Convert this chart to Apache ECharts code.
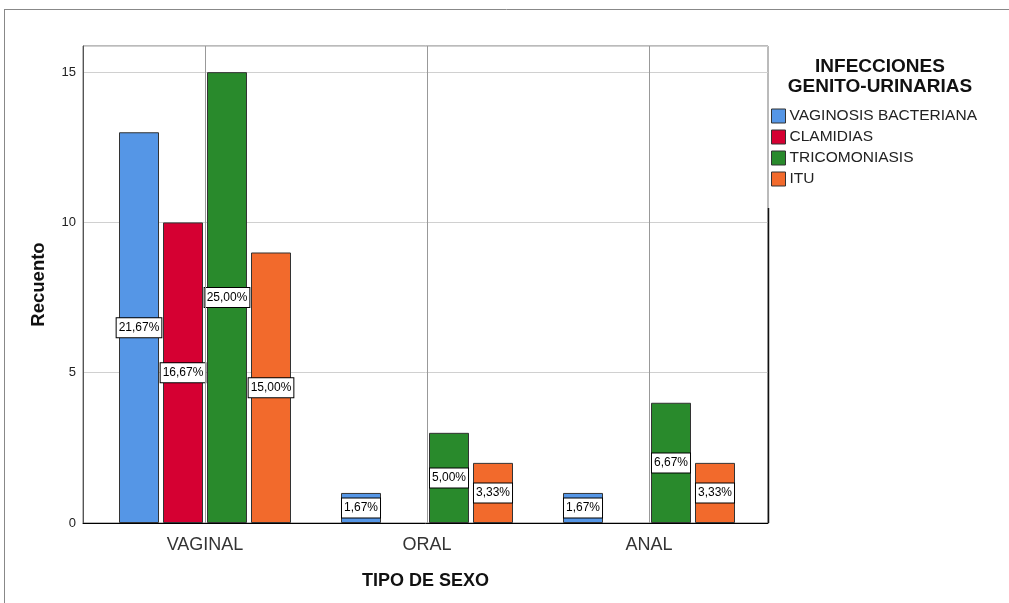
<!DOCTYPE html>
<html>
<head>
<meta charset="utf-8">
<script src="https://cdn.jsdelivr.net/npm/echarts@6/dist/echarts.min.js"></script>
<style>
html,body{margin:0;padding:0;background:#fff;}
#c{width:1009px;height:603px;}
</style>
</head>
<body>
<div id="c"></div>
<script>
var categories = ['VAGINAL', 'ORAL', 'ANAL'];
var seriesNames = ['VAGINOSIS BACTERIANA', 'CLAMIDIAS', 'TRICOMONIASIS', 'ITU'];
var vaginosis = [13, 1, 1];
var clamidias = [10, 0, 0];
var tricomoniasis = [15, 3, 4];
var itu = [9, 2, 2];
var yTicks = [0, 5, 10, 15];
var colors = ['#5596E6', '#D50032', '#298A2C', '#F26A2C'];

var allSeries = [vaginosis, clamidias, tricomoniasis, itu];
var total = 0;
allSeries.forEach(function (s) { s.forEach(function (v) { total += v; }); });

var FONT = '"Liberation Sans", Arial, sans-serif';
var YMAX = 15.87;

var chart = echarts.init(document.getElementById('c'), null, {renderer: 'canvas'});

function makeData(arr) {
  return arr.map(function (v) { return v === 0 ? null : v; });
}

var series = allSeries.map(function (arr, i) {
  return {
    name: seriesNames[i],
    type: 'bar',
    xAxisIndex: 1,
    yAxisIndex: 1,
    barWidth: 40,
    barGap: '10%',
    data: makeData(arr),
    itemStyle: {color: colors[i], borderColor: '#333', borderWidth: 1},
    label: {
      show: true,
      position: 'inside',
      color: '#000',
      fontSize: 12,
      fontFamily: FONT,
      backgroundColor: '#fff',
      borderColor: '#000',
      borderWidth: 1,
      padding: [4, 2, 3, 2],
      formatter: function (p) {
        return (p.value / total * 100).toFixed(2).replace('.', ',') + '%';
      }
    },
    z: 3
  };
});

series.push({
  name: 'refLines',
  type: 'line',
  xAxisIndex: 1,
  yAxisIndex: 1,
  data: categories.map(function () { return null; }),
  symbol: 'none',
  silent: true,
  z: 1,
  markLine: {
    silent: true,
    symbol: 'none',
    label: {show: false},
    lineStyle: {color: '#999', width: 1, type: 'solid'},
    data: categories.map(function (c) { return {xAxis: c}; })
  }
});

var option = {
  backgroundColor: '#fff',
  animation: false,
  title: {
    text: 'INFECCIONES\nGENITO-URINARIAS',
    left: 875,
    top: 52,
    textAlign: 'center',
    textStyle: {fontFamily: FONT, fontSize: 19, fontWeight: 'bold', color: '#111', lineHeight: 20}
  },
  legend: {
    orient: 'vertical',
    left: 766,
    top: 103,
    itemWidth: 14,
    itemHeight: 14,
    itemGap: 5,
    icon: 'rect',
    data: seriesNames,
    itemStyle: {borderColor: '#333', borderWidth: 1},
    textStyle: {fontFamily: FONT, fontSize: 15.5, color: '#222', padding: [0, 0, 0, -1]}
  },
  grid: [
    {left: 83, top: 46, width: 685, height: 477, show: true, borderColor: '#777', borderWidth: 1, backgroundColor: 'transparent'},
    {left: 94, top: 46, width: 666, height: 477}
  ],
  xAxis: [
    {
      type: 'value', gridIndex: 0, min: 0, max: 1,
      axisLine: {show: true, onZero: false, lineStyle: {color: '#000', width: 1}},
      axisTick: {show: false}, axisLabel: {show: false}, splitLine: {show: false},
      name: 'TIPO DE SEXO', nameLocation: 'middle', nameGap: 49,
      nameTextStyle: {fontFamily: FONT, fontSize: 18, fontWeight: 'bold', color: '#111'}
    },
    {
      type: 'category', gridIndex: 1, data: categories,
      axisLine: {show: false}, axisTick: {show: false}, splitLine: {show: false},
      axisLabel: {fontFamily: FONT, fontSize: 18, color: '#333', margin: 13}
    }
  ],
  yAxis: [
    {
      type: 'value', gridIndex: 0, min: 0, max: YMAX, interval: 5,
      axisLine: {show: true, lineStyle: {color: '#555', width: 1}},
      axisTick: {show: false},
      axisLabel: {fontFamily: FONT, fontSize: 13, color: '#222', margin: 7, showMaxLabel: false,
        formatter: function (v) { return yTicks.indexOf(v) >= 0 ? String(v) : ''; }},
      splitLine: {show: true, lineStyle: {color: '#d0d0d0', width: 1}},
      name: 'Recuento', nameLocation: 'middle', nameGap: 35,
      nameTextStyle: {fontFamily: FONT, fontSize: 18.5, fontWeight: 'bold', color: '#111'}
    },
    {
      type: 'value', gridIndex: 1, min: 0, max: YMAX, interval: 5,
      axisLine: {show: false}, axisTick: {show: false}, axisLabel: {show: false}, splitLine: {show: false}
    }
  ],
  series: series,
  graphic: [
    {type: 'line', shape: {x1: 4, y1: 9.5, x2: 1009, y2: 9.5}, style: {stroke: '#888', lineWidth: 1}, silent: true},
    {type: 'line', shape: {x1: 4.5, y1: 9, x2: 4.5, y2: 603}, style: {stroke: '#888', lineWidth: 1}, silent: true},
    {type: 'line', shape: {x1: 768.5, y1: 208, x2: 768.5, y2: 523}, style: {stroke: '#111', lineWidth: 1.5}, silent: true, z: 10}
  ]
};

chart.setOption(option);
</script>
</body>
</html>
